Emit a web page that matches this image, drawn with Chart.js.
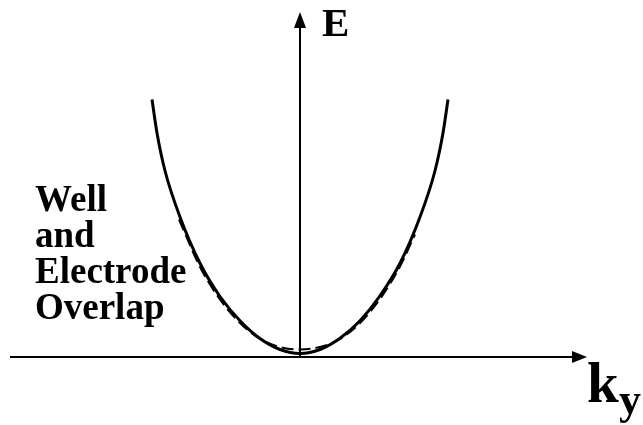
<!DOCTYPE html>
<html>
<head>
<meta charset="utf-8">
<title>Subband dispersion</title>
<script src="https://cdn.jsdelivr.net/npm/chart.js@4"></script>
<style>
  html, body { margin: 0; padding: 0; background: #fff; }
  #chart-box { width: 643px; height: 425px; }
</style>
</head>
<body>
<div id="chart-box"><canvas id="dispersion-chart"></canvas></div>
<script>
// Solid band: k_y and E values along the curve
const solidK = [-2.96, -2.86, -2.7, -2.4, -2.0, -1.6, -1.2, -0.8, -0.4, 0, 0.4, 0.8, 1.2, 1.6, 2.0, 2.4, 2.7, 2.86, 2.96];
const solidE = [10.3, 8.96, 7.45, 5.6, 3.75, 2.42, 1.45, 0.74, 0.3, 0.14, 0.3, 0.75, 1.45, 2.45, 3.75, 5.6, 7.45, 8.96, 10.3];

// Dashed band (well and electrode overlap)
const dashedK = [-2.42, -2.0, -1.6, -1.2, -0.8, -0.4, 0, 0.4, 0.8, 1.2, 1.6, 2.0, 2.3];
const dashedE = [5.5, 3.6, 2.3, 1.36, 0.72, 0.4, 0.3, 0.4, 0.72, 1.36, 2.32, 3.62, 4.9];

// Axis extents in data units
const kRange = [-5.8, 5.8];
const eRange = [0, 14];
const kArrowTip = 5.74;
const eArrowTip = 13.8;

const labelLines = ['Well', 'and', 'Electrode', 'Overlap'];

document.addEventListener('DOMContentLoaded', () => {
  const ctx = document.getElementById('dispersion-chart').getContext('2d');
  const toPoints = (ks, es) => ks.map((k, i) => ({ x: k, y: es[i] }));

  // Axes with arrowheads, drawn through the scales
  const arrowAxes = {
    id: 'arrowAxes',
    beforeDatasetsDraw(chart) {
      const { ctx, scales: { x, y } } = chart;
      const x0 = x.getPixelForValue(kRange[0]);
      const xTip = x.getPixelForValue(kArrowTip);
      const yZero = y.getPixelForValue(0);
      const xMid = x.getPixelForValue(0);
      const yTip = y.getPixelForValue(eArrowTip);
      ctx.save();
      ctx.strokeStyle = '#000';
      ctx.fillStyle = '#000';
      ctx.lineWidth = 2;
      ctx.beginPath();
      ctx.moveTo(x0, yZero);
      ctx.lineTo(xTip - 10, yZero);
      ctx.moveTo(xMid, yZero);
      ctx.lineTo(xMid, yTip + 10);
      ctx.stroke();
      // horizontal arrowhead
      ctx.beginPath();
      ctx.moveTo(xTip, yZero);
      ctx.lineTo(xTip - 15, yZero - 6);
      ctx.lineTo(xTip - 15, yZero + 6);
      ctx.closePath();
      ctx.fill();
      // vertical arrowhead
      ctx.beginPath();
      ctx.moveTo(xMid, yTip);
      ctx.lineTo(xMid - 6, yTip + 16);
      ctx.lineTo(xMid + 6, yTip + 16);
      ctx.closePath();
      ctx.fill();
      ctx.restore();
    },
    afterDraw(chart) {
      const { ctx } = chart;
      ctx.save();
      ctx.fillStyle = '#000';
      ctx.textBaseline = 'alphabetic';
      ctx.textAlign = 'left';
      ctx.font = 'bold 41px "Liberation Serif"';
      ctx.fillText('E', 322, 36);
      ctx.font = 'bold 57px "Liberation Serif"';
      ctx.fillText('k', 587, 402);
      ctx.font = 'bold 44px "Liberation Serif"';
      ctx.fillText('y', 619, 414);
      ctx.font = 'bold 37px "Liberation Serif"';
      labelLines.forEach((line, i) => ctx.fillText(line, 35, 211 + i * 36));
      ctx.restore();
    }
  };

  new Chart(ctx, {
    type: 'scatter',
    data: {
      datasets: [
        {
          label: 'Overlap',
          data: toPoints(dashedK, dashedE),
          showLine: true,
          borderColor: '#000',
          borderWidth: 2,
          borderDash: [12, 5],
          pointRadius: 0,
          cubicInterpolationMode: 'monotone'
        },
        {
          label: 'Band',
          data: toPoints(solidK, solidE),
          showLine: true,
          borderColor: '#000',
          borderWidth: 3,
          pointRadius: 0,
          cubicInterpolationMode: 'monotone'
        }
      ]
    },
    options: {
      responsive: true,
      maintainAspectRatio: false,
      animation: false,
      layout: { padding: { left: 10, right: 53, top: 7, bottom: 68 } },
      plugins: { legend: { display: false }, tooltip: { enabled: false } },
      scales: {
        x: { type: 'linear', min: kRange[0], max: kRange[1], display: false },
        y: { type: 'linear', min: eRange[0], max: eRange[1], display: false }
      }
    },
    plugins: [arrowAxes]
  });
});
</script>
</body>
</html>
